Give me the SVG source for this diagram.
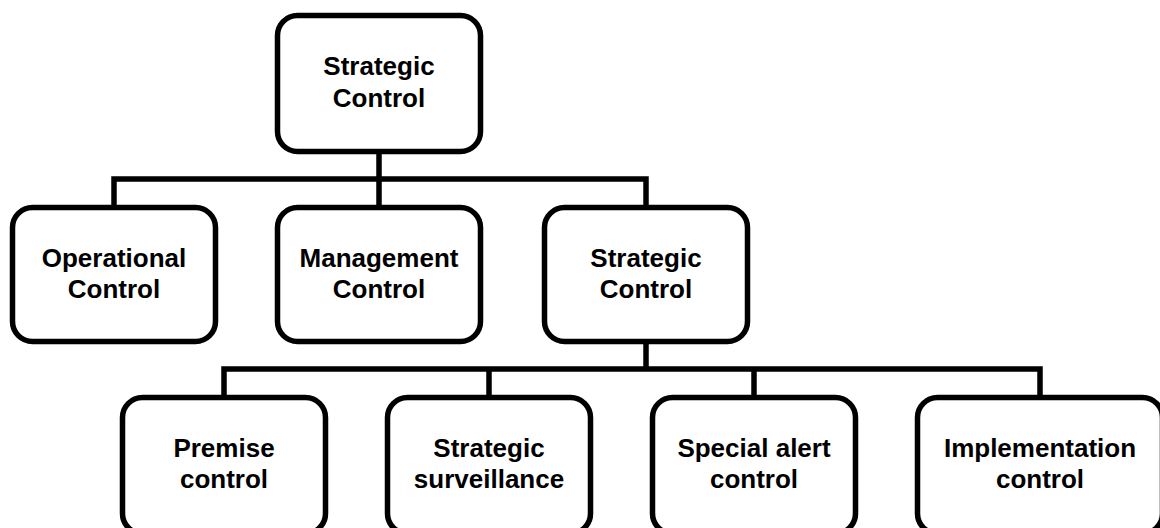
<svg xmlns="http://www.w3.org/2000/svg" width="1160" height="528" viewBox="0 0 1160 528">
<style>
.box{fill:#fff;stroke:#000;stroke-width:5.5}
.lbl{font-family:"Liberation Sans",Arial,sans-serif;font-weight:bold;font-size:26px;fill:#000;text-anchor:middle}
.con{fill:none;stroke:#000;stroke-width:5.5;stroke-linejoin:miter}
</style>
<rect width="1160" height="528" fill="#fff"/>
<g id="connectors">
<path class="con" d="M114 205V179H646V205M379 154V205"/>
<path class="con" d="M224 395V369H1040V395M646 344V369M489 369V395M754 369V395"/>
</g>
<g id="n-top"><rect class="box" x="277.5" y="15.5" width="203" height="136" rx="20"/><text class="lbl" x="379" y="75">Strategic</text><text class="lbl" x="379" y="107">Control</text></g>
<g id="n-operational"><rect class="box" x="12.5" y="207.5" width="203" height="134" rx="20"/><text class="lbl" x="114" y="267">Operational</text><text class="lbl" x="114" y="298">Control</text></g>
<g id="n-management"><rect class="box" x="277.5" y="207.5" width="203" height="134" rx="20"/><text class="lbl" x="379" y="267">Management</text><text class="lbl" x="379" y="298">Control</text></g>
<g id="n-strategic2"><rect class="box" x="544.5" y="207.5" width="203" height="134" rx="20"/><text class="lbl" x="646" y="267">Strategic</text><text class="lbl" x="646" y="298">Control</text></g>
<g id="n-premise"><rect class="box" x="122.5" y="397.5" width="203" height="136" rx="20"/><text class="lbl" x="224" y="457">Premise</text><text class="lbl" x="224" y="488">control</text></g>
<g id="n-surveillance"><rect class="box" x="387.5" y="397.5" width="203" height="136" rx="20"/><text class="lbl" x="489" y="457">Strategic</text><text class="lbl" x="489" y="488">surveillance</text></g>
<g id="n-alert"><rect class="box" x="652.5" y="397.5" width="203" height="136" rx="20"/><text class="lbl" x="754" y="457">Special alert</text><text class="lbl" x="754" y="488">control</text></g>
<g id="n-implementation"><rect class="box" x="917.5" y="397.5" width="245" height="136" rx="20"/><text class="lbl" x="1040" y="457">Implementation</text><text class="lbl" x="1040" y="488">control</text></g>
</svg>
